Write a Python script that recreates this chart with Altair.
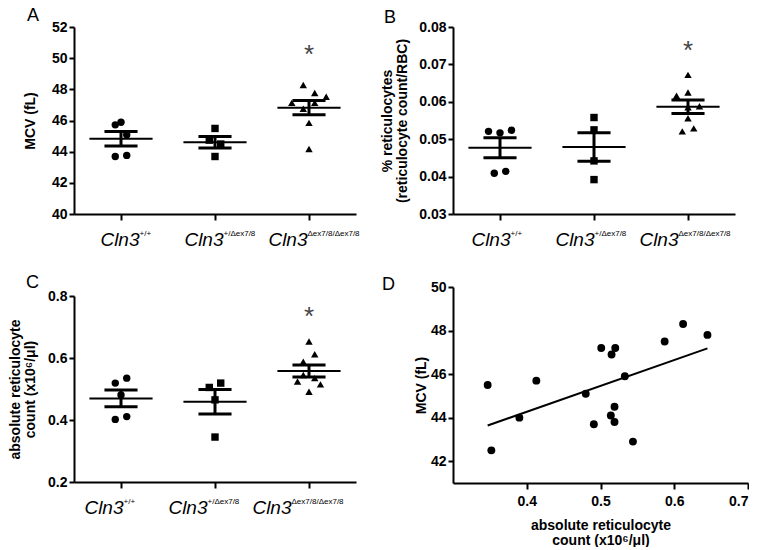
import altair as alt
import pandas as pd

FONT = "Liberation Sans"

# category labels: base name + superscript genotype
BASE = "Cln3"
GENOTYPES = ["+/+", "+/Δex7/8", "Δex7/8/Δex7/8"]

# Panel A: MCV (fL)
A_wt = [45.72, 45.89, 45.08, 43.69, 43.76]
A_het = [45.49, 44.74, 44.49, 43.69]
A_hom = [48.28, 47.77, 47.52, 47.13, 47.13, 46.75, 45.85, 44.17]
A_wt_slot = [-1, 0, 1, -1, 1]
A_het_slot = [0, -1, 1, 0]
A_hom_slot = [-1, 1, 3, -3, 1, -1, 0, 0]

# Panel B: % reticulocytes
B_wt = [0.0521, 0.0517, 0.0524, 0.0409, 0.0414]
B_het = [0.0558, 0.0525, 0.0442, 0.0392]
B_hom = [0.0672, 0.0616, 0.0625, 0.0588, 0.0585, 0.0556, 0.0521, 0.0529]
B_wt_slot = [-2, 0, 2, -1, 1]
B_het_slot = [0, 0, 0, 0]
B_hom_slot = [0, -2, 0, 2, 0, 0, -1, 1]

# Panel C: absolute reticulocyte count
C_wt = [0.519, 0.535, 0.481, 0.402, 0.411]
C_het = [0.505, 0.519, 0.465, 0.345]
C_hom = [0.653, 0.612, 0.588, 0.545, 0.535, 0.524, 0.515, 0.491]
C_wt_slot = [-1, 1, 0, -1, 1]
C_het_slot = [-1, 1, 0, 0]
C_hom_slot = [0, 1, -1, -1, 1, -2, 2, 0]

# significance marker heights
STAR_A = 50.5
STAR_B = 0.0750
STAR_C = 0.750

# Panel D: MCV vs absolute reticulocyte count
D_x = [0.347, 0.352, 0.390, 0.413, 0.480, 0.491, 0.501, 0.514, 0.519,
       0.519, 0.515, 0.520, 0.533, 0.544, 0.587, 0.612, 0.645]
D_y = [45.5, 42.5, 44.0, 45.7, 45.1, 43.7, 47.2, 44.1, 43.8,
       44.5, 46.9, 47.2, 45.9, 42.9, 47.5, 48.3, 47.8]

SLOT = 0.061


def anchor(ypx):
    # invisible layout anchor so both columns line up predictably
    return alt.Chart(pd.DataFrame({"t": ["."]})).mark_text(
        fontSize=1, opacity=0, baseline="top"
    ).encode(text="t:N", x=alt.value(100), y=alt.value(ypx))


def group_panel(vals, slots, ydom, yvals, yfmt, ytitle, ytpad, star, letter,
                lxy, lab_shift, w, h, anchor_y=None):
    rows = []
    for g, (vs, ss) in enumerate(zip(vals, slots)):
        for v, s in zip(vs, ss):
            rows.append({"idx": g, "v": v, "slot": s})
    df = pd.DataFrame(rows)
    xs = alt.Scale(domain=[-0.5, 2.5], nice=False, zero=False)
    ys = alt.Scale(domain=ydom, nice=False, zero=False)
    xax = alt.Axis(values=[0, 1, 2], labels=False, title=None, tickSize=6, grid=False)
    yax = alt.Axis(values=yvals, format=yfmt, title=ytitle, titlePadding=ytpad, grid=False)

    base = alt.Chart(df)
    pts = base.transform_calculate(px=f"datum.idx + datum.slot*{SLOT}").mark_point(
        filled=True, opacity=1, color="black", strokeWidth=0
    ).encode(
        x=alt.X("px:Q", scale=xs, axis=xax),
        y=alt.Y("v:Q", scale=ys, axis=yax),
        shape=alt.Shape("idx:O", scale=alt.Scale(domain=[0, 1, 2], range=["circle", "square", "triangle-up"]), legend=None),
        size=alt.Size("idx:O", scale=alt.Scale(domain=[0, 1, 2], range=[55, 55, 65]), legend=None),
    )
    summ = base.transform_aggregate(
        m="mean(v)", se="stderr(v)", groupby=["idx"]
    ).transform_calculate(
        lo="datum.m - datum.se", hi="datum.m + datum.se",
        x1="datum.idx - 0.336", x2="datum.idx + 0.336",
        s1="datum.idx - 0.176", s2="datum.idx + 0.176",
    )
    mean_rule = summ.mark_rule(color="black", strokeWidth=2).encode(
        x=alt.X("x1:Q", scale=xs, axis=xax), x2="x2:Q",
        y=alt.Y("m:Q", scale=ys, axis=yax),
    )
    caps = summ.transform_fold(["lo", "hi"], as_=["k", "yv"]).mark_rule(
        color="black", strokeWidth=3
    ).encode(
        x=alt.X("s1:Q", scale=xs, axis=xax), x2="s2:Q",
        y=alt.Y("yv:Q", scale=ys, axis=yax),
    )
    vert = summ.mark_rule(color="black", strokeWidth=3).encode(
        x=alt.X("idx:Q", scale=xs, axis=xax),
        y=alt.Y("lo:Q", scale=ys, axis=yax), y2="hi:Q",
    )
    star_mark = alt.Chart(pd.DataFrame({"idx": [2], "v": [star]})).mark_text(
        text="*", font=FONT, fontSize=26, color="#444", baseline="alphabetic", dy=13
    ).encode(x=alt.X("idx:Q", scale=xs, axis=xax), y=alt.Y("v:Q", scale=ys, axis=yax))

    labs = alt.Chart(pd.DataFrame({"idx": [0, 1, 2], "sup": GENOTYPES})).transform_calculate(
        lx=f"datum.idx + (19.5 - 2*length(datum.sup) + {lab_shift})/{w / 3}"
    )
    base_txt = labs.mark_text(
        text=BASE, font=FONT, fontStyle="italic", fontSize=19, align="right",
        baseline="alphabetic", color="black"
    ).encode(x=alt.X("lx:Q", scale=xs, axis=xax), y=alt.value(h + 32))
    sup_txt = labs.mark_text(
        font=FONT, fontSize=8, align="left", baseline="alphabetic", color="black"
    ).encode(x=alt.X("lx:Q", scale=xs, axis=xax), y=alt.value(h + 22), text="sup:N")

    let = alt.Chart(pd.DataFrame({"t": [letter]})).mark_text(
        font=FONT, fontSize=18, align="left", baseline="alphabetic", color="black"
    ).encode(text="t:N", x=alt.value(lxy[0]), y=alt.value(lxy[1]))

    layers = [pts, mean_rule, caps, vert, star_mark, base_txt, sup_txt, let]
    if anchor_y is not None:
        layers.append(anchor(anchor_y))
    return alt.layer(*layers).properties(width=w, height=h)


pA = group_panel([A_wt, A_het, A_hom], [A_wt_slot, A_het_slot, A_hom_slot],
                 [40, 52], [40, 42, 44, 46, 48, 50, 52], "d", "MCV (fL)", 14,
                 STAR_A, "A", (-47, -6), 5, 282, 187, anchor_y=-34)
pB = group_panel([B_wt, B_het, B_hom], [B_wt_slot, B_het_slot, B_hom_slot],
                 [0.03, 0.08], [0.03, 0.04, 0.05, 0.06, 0.07, 0.08], ".2f",
                 ["% reticulocytes", "(reticulocyte count/RBC)"], 9,
                 STAR_B, "B", (-69, -4), -3, 282, 187, anchor_y=-31)
pC = group_panel([C_wt, C_het, C_hom], [C_wt_slot, C_het_slot, C_hom_slot],
                 [0.2, 0.8], [0.2, 0.4, 0.6, 0.8], ".1f",
                 ["absolute reticulocyte", "count (x10⁶/μl)"], 10,
                 STAR_C, "C", (-48, -8), -11, 282, 186)

ddf = pd.DataFrame({"x": D_x, "y": D_y})
dxs = alt.Scale(domain=[0.3, 0.7], nice=False, zero=False)
dys = alt.Scale(domain=[41, 50], nice=False, zero=False)
dxax = alt.Axis(values=[0.4, 0.5, 0.6, 0.7], format=".1f",
                title=["absolute reticulocyte", "count (x10⁶/μl)"],
                titlePadding=10, tickSize=6, labelPadding=5, grid=False)
dyax = alt.Axis(values=[42, 44, 46, 48, 50], format="d", title="MCV (fL)",
                titlePadding=2, grid=False)
d_pts = alt.Chart(ddf).mark_circle(size=62, color="black", opacity=1).encode(
    x=alt.X("x:Q", scale=dxs, axis=dxax), y=alt.Y("y:Q", scale=dys, axis=dyax))
d_reg = alt.Chart(ddf).transform_regression("x", "y").mark_line(
    color="black", strokeWidth=2).encode(
    x=alt.X("x:Q", scale=dxs, axis=dxax), y=alt.Y("y:Q", scale=dys, axis=dyax))
d_let = alt.Chart(pd.DataFrame({"t": ["D"]})).mark_text(
    font=FONT, fontSize=18, align="left", baseline="alphabetic", color="black"
).encode(text="t:N", x=alt.value(-71), y=alt.value(3))
pD = alt.layer(d_pts, d_reg, d_let).properties(width=295, height=196)

colL = alt.vconcat(pA, pC, spacing=82, bounds="flush")
colR = alt.vconcat(pB, pD, spacing=73, bounds="flush")
chart = alt.hconcat(colL, colR, spacing=20).properties(
    padding={"left": 0, "top": -15, "right": 0, "bottom": 0}
).configure_view(stroke=None).configure_axis(
    domainColor="black", domainWidth=2, tickColor="black", tickWidth=2,
    labelFont=FONT, labelFontSize=14, labelFontWeight="bold", labelColor="black",
    titleFont=FONT, titleFontSize=14, titleFontWeight="bold", titleColor="black",
    labelPadding=2, titleLineHeight=15, grid=False,
)

chart.save("out.html", embed_options={"renderer": "svg", "actions": False})
